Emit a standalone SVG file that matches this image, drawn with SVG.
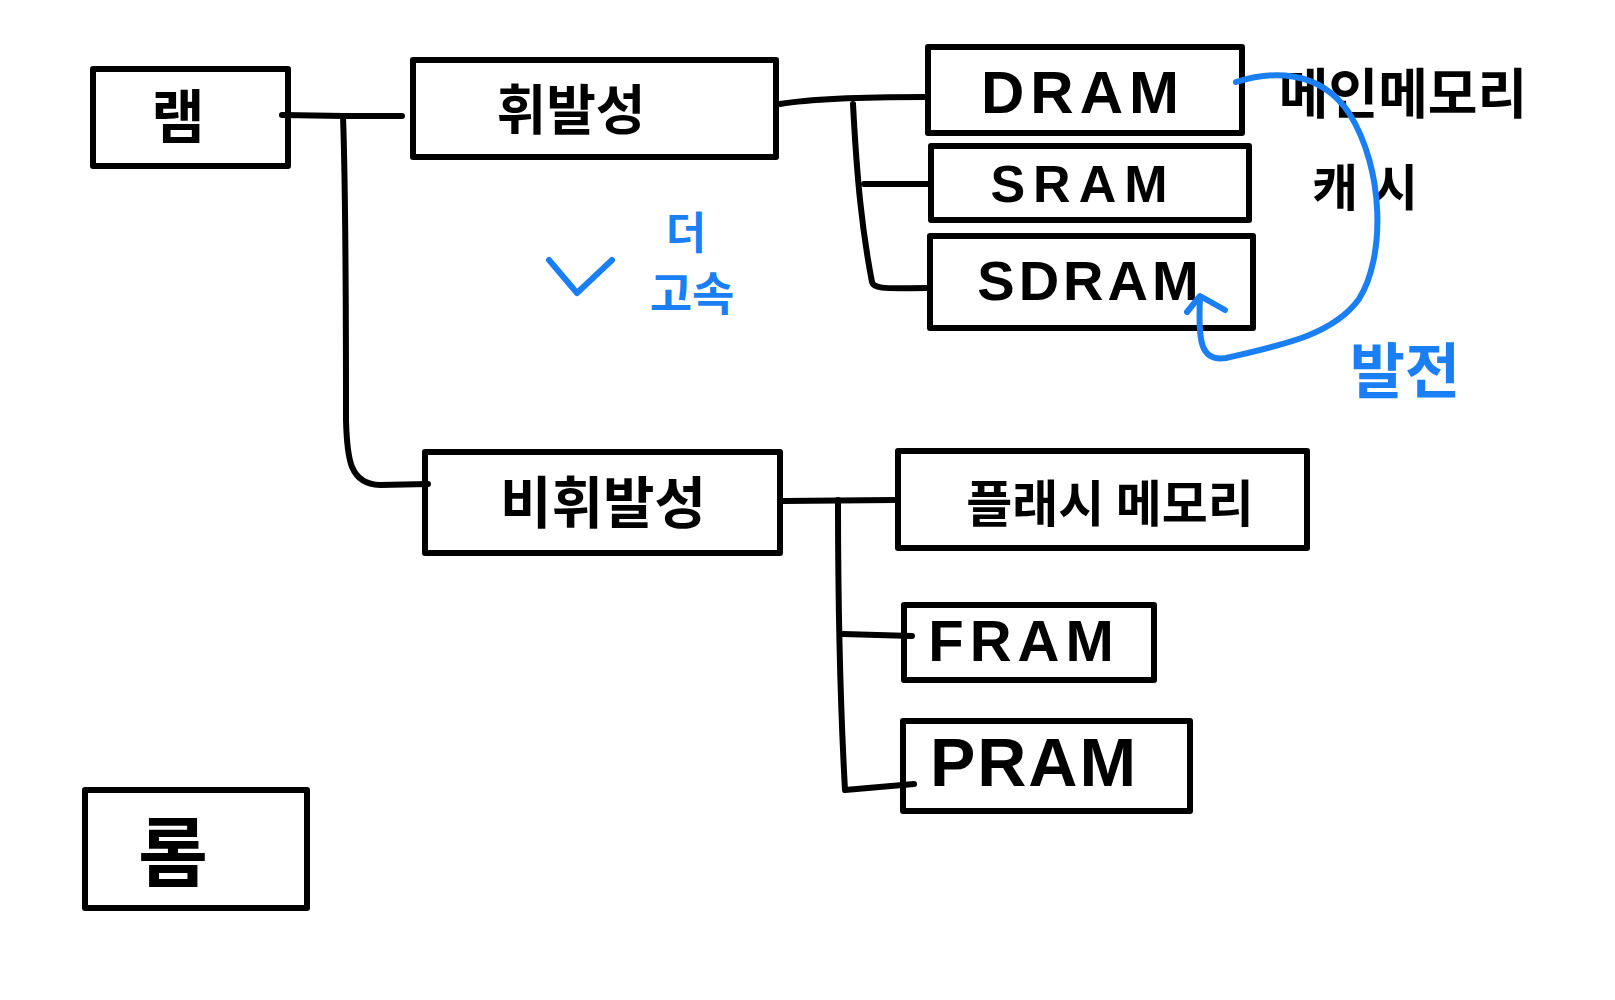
<svg xmlns="http://www.w3.org/2000/svg" width="1615" height="1000" viewBox="0 0 1615 1000">
<style>
.box{fill:none;stroke:#000;stroke-width:6;stroke-linejoin:round}
.con{fill:none;stroke:#000;stroke-width:6;stroke-linecap:round;stroke-linejoin:round}
.blue{fill:none;stroke:#1a7ff5;stroke-width:6;stroke-linecap:round;stroke-linejoin:round}
.t{font-family:"Noto Sans CJK KR","Liberation Sans",sans-serif;font-weight:bold;fill:#000;text-anchor:middle;dominant-baseline:central}
.b{font-family:"Noto Sans CJK KR","Liberation Sans",sans-serif;font-weight:bold;fill:#1a7ff5;text-anchor:middle;dominant-baseline:central}
.en{font-family:"Liberation Sans",sans-serif;font-weight:bold;fill:#000;text-anchor:middle;dominant-baseline:central}
</style>
<rect width="1615" height="1000" fill="#fff"/>
<g id="connectors">
<path class="con" d="M282,115 L345,116 L402,116"/>
<path class="con" d="M343,116 C346,200 346,300 346,420 C347,460 350,484 380,485 L428,484"/>
<path class="con" d="M780,104 C810,99 850,97 926,97"/>
<path class="con" d="M853,104 C857,180 862,230 872,282 C874,290 890,288 928,288"/>
<path class="con" d="M864,184 L929,184"/>
<path class="con" d="M783,501 L894,500"/>
<path class="con" d="M838,500 C838,600 840,700 845,790 L914,784"/>
<path class="con" d="M843,634 L912,636"/>
</g>
<g id="ram"><rect class="box" x="93" y="69" width="195" height="97"/><text class="t" x="178" y="113" font-size="58">램</text></g>
<g id="volatile"><rect class="box" x="413" y="60" width="363" height="97"/><text class="t" x="571" y="106" font-size="54">휘발성</text></g>
<g id="dram"><rect class="box" x="928" y="47" width="314" height="86"/><text class="en" x="1083" y="92" font-size="60" letter-spacing="6">DRAM</text></g>
<g id="sram"><rect class="box" x="931" y="146" width="318" height="74"/><text class="en" x="1083" y="184" font-size="52" letter-spacing="8">SRAM</text></g>
<g id="sdram"><rect class="box" x="930" y="236" width="323" height="92"/><text class="en" x="1090" y="280" font-size="56" letter-spacing="4">SDRAM</text></g>
<g id="nonvolatile"><rect class="box" x="425" y="452" width="355" height="101"/><text class="t" x="603" y="498" font-size="56">비휘발성</text></g>
<g id="flash"><rect class="box" x="898" y="451" width="409" height="97"/><text class="t" x="1110" y="500" font-size="50">플래시 메모리</text></g>
<g id="fram"><rect class="box" x="904" y="605" width="250" height="75"/><text class="en" x="1024" y="640" font-size="58" letter-spacing="6">FRAM</text></g>
<g id="pram"><rect class="box" x="903" y="721" width="287" height="90"/><text class="en" x="1034" y="762" font-size="68" letter-spacing="2">PRAM</text></g>
<g id="rom"><rect class="box" x="85" y="790" width="222" height="118"/><text class="t" x="173" y="848" font-size="76">롬</text></g>
<g id="notes">
<text class="t" x="1403" y="90" font-size="54">메인메모리</text>
<text class="t" x="1372" y="184" font-size="50" letter-spacing="14">캐시</text>
<text class="b" x="686" y="230" font-size="44">더</text>
<text class="b" x="692" y="290" font-size="46">고속</text>
<text class="b" x="1405" y="366" font-size="60">발전</text>
<path class="blue" d="M549,260 L577,293 L612,260"/>
<path class="blue" d="M1236,82 C1268,72 1318,67 1349,113 C1385,170 1385,258 1359,299 C1333,335 1282,345 1226,358 C1200,362 1198,340 1200,298"/>
<path class="blue" d="M1187,312 L1200,296 L1225,310"/>
</g>
</svg>
